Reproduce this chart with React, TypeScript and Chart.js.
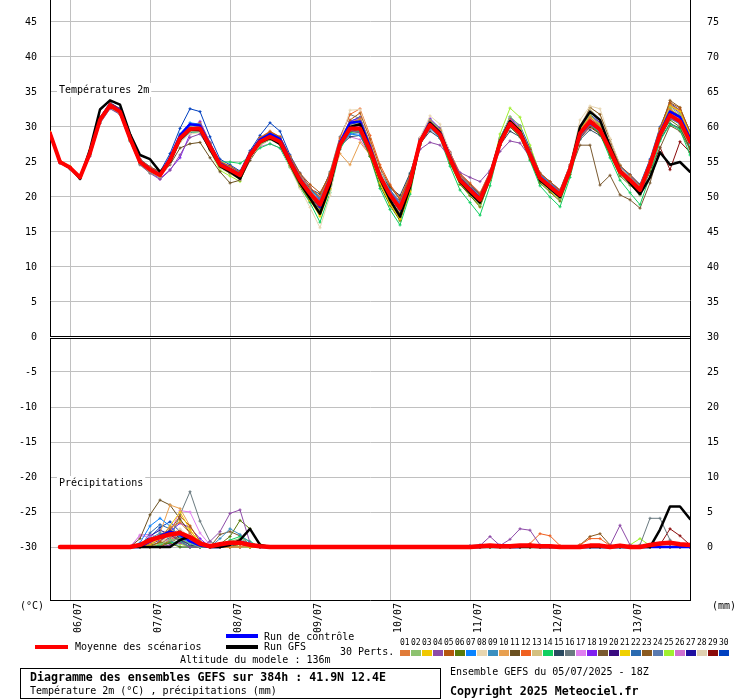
import React, { useEffect, useRef } from 'react';
import { Chart, registerables } from 'chart.js';

Chart.register(...registerables);

const FONT = '"DejaVu Sans Mono", "Liberation Mono", monospace';
const W = 740;
const H = 700;

// ---- axes ----
const DATE_LABELS = ['06/07', '07/07', '08/07', '09/07', '10/07', '11/07', '12/07', '13/07'];
const DATE_STEPS = [2, 10, 18, 26, 34, 42, 50, 58];
const TEMP_TICKS = [-30, -25, -20, -15, -10, -5, 0, 5, 10, 15, 20, 25, 30, 35, 40, 45];
const PRECIP_TICKS = [0, 5, 10, 15, 20, 25, 30, 35, 40, 45, 50, 55, 60, 65, 70, 75];
const T_MIN = -37.57;
const T_MAX = 48.14;
const P_SHIFT = 30;

const MEMBER_IDS = ['01','02','03','04','05','06','07','08','09','10','11','12','13','14','15','16','17','18','19','20','21','22','23','24','25','26','27','28','29','30'];
const MEMBER_COLORS = ['#e07b39','#8dc26f','#f0c800','#8e4ba8','#b5560e','#5a7a0a','#0a84ff','#e8d6b0','#3a8fc0','#e8a050','#6b5020','#f06020','#d4c080','#10d060','#2a4a60','#6a7a80','#e080f0','#8020f0','#7a5a30','#3a0a80','#f0d000','#2a6ab0','#8a5a20','#5a7ab0','#a0f030','#d070d0','#2010a0','#e0d0b0','#8a0a0a','#0040c0'];

// ---- temperature (°C), 3-hourly steps ----
const T_MEAN = [29.1,25.0,24.2,22.8,26.3,31.0,33.1,32.2, 28.4,25.0,23.9,23.1,25.3,28.4,29.7,29.8, 27.2,24.6,23.9,23.1,26.0,27.9,28.6,27.9, 25.0,22.4,20.5,18.9,22.4,27.5,29.8,29.8, 26.7,22.9,20.3,18.4,22.0,27.9,30.3,28.9, 25.5,22.4,21.0,19.6,22.9,27.7,30.5,29.1, 26.0,22.7,21.5,20.3,23.9,29.1,30.8,29.6, 26.7,23.6,22.4,21.0,24.6,28.9,31.7,30.8, 27.9];
const T_CTRL = [29.1,25.0,24.2,22.8,26.4,31.1,33.2,32.4, 28.6,25.1,24.0,23.2,25.6,28.8,30.4,30.2, 27.4,24.8,24.0,23.2,26.2,28.2,29.0,28.3, 25.3,22.6,20.6,18.6,22.3,27.8,30.6,30.8, 27.2,23.0,20.2,18.2,21.8,28.0,30.6,29.2, 25.8,22.6,21.2,19.8,23.0,27.8,30.8,29.4, 26.2,22.8,21.6,20.3,23.8,29.0,30.6,29.6, 26.8,23.6,22.2,20.8,24.6,29.2,32.2,31.4, 28.4];
const T_GFS = [29.1,25.0,24.2,22.6,26.8,32.5,33.8,33.2, 29.0,26.0,25.4,23.6,25.0,28.2,29.6,29.6, 26.8,24.4,23.6,22.6,25.8,27.8,28.4,27.6, 24.8,22.0,19.8,17.6,21.6,27.4,30.0,30.4, 26.8,22.6,19.6,17.2,21.4,27.8,30.6,29.2, 25.6,22.2,20.6,19.2,22.8,28.0,30.8,29.4, 26.0,22.4,21.2,20.0,24.0,30.0,32.2,31.0, 27.2,23.8,22.0,20.4,22.8,26.4,24.6,25.0, 23.6];
const T_M01 = [29.2,24.9,24.1,22.9,26.5,31.4,33.3,32.5, 28.9,25.3,24.2,23.4,25.0,28.0,29.5,30.3, 27.6,24.9,24.2,23.3,26.2,28.3,28.9,28.4, 25.6,23.0,21.0,19.2,22.0,27.0,30.5,31.2, 27.8,23.4,20.5,18.0,21.5,27.5,30.8,29.5, 26.0,23.0,21.5,20.0,23.0,27.5,30.2,29.0, 26.3,23.0,21.8,20.6,24.3,29.5,31.4,30.0, 27.3,24.0,22.9,21.5,25.0,29.5,32.5,31.5, 28.4];
const T_M02 = [29.0,25.1,24.3,22.7,26.0,30.6,32.8,32.0, 28.1,24.8,23.6,22.9,25.6,28.8,30.2,30.0, 27.0,24.3,23.6,22.8,25.8,27.5,28.2,27.6, 24.5,21.8,19.8,18.0,21.5,27.2,30.0,30.4, 26.5,22.3,19.5,17.4,21.3,28.2,31.0,29.6, 25.2,22.0,20.4,18.8,22.5,28.3,31.5,30.2, 26.5,22.5,21.0,19.7,23.5,29.8,31.8,30.2, 26.9,23.3,21.8,20.2,24.0,29.3,32.8,31.8, 28.6];
const T_M03 = [29.3,25.2,24.4,23.0,26.8,31.2,33.0,32.0, 28.2,25.1,24.0,23.3,25.5,28.6,29.9,29.6, 27.0,24.4,23.8,22.9,25.7,27.6,28.5,27.8, 24.6,21.7,19.5,17.4,21.2,27.4,30.6,30.8, 26.3,22.0,19.0,16.8,20.8,27.8,30.6,29.4, 25.4,22.2,20.8,19.2,22.6,27.6,30.8,29.8, 26.2,22.6,21.2,20.0,23.8,29.6,31.6,30.4, 27.2,23.6,22.3,20.8,24.8,29.5,33.0,32.2, 29.0];
const T_M04 = [29.0,24.8,24.0,22.6,25.8,30.5,32.6,31.8, 28.0,24.6,23.4,22.5,23.8,26.0,28.5,29.0, 26.8,24.4,23.5,22.6,25.5,27.8,28.8,28.0, 25.2,22.6,20.8,19.5,22.8,27.6,29.5,29.2, 26.6,23.0,20.8,19.2,22.4,26.8,27.8,27.4, 25.6,23.5,22.8,22.2,23.8,26.5,28.0,27.7, 25.7,23.0,21.8,20.8,24.0,28.5,30.3,29.5, 26.7,23.8,22.6,21.4,24.4,28.6,31.2,30.6, 27.8];
const T_M05 = [29.1,25.0,24.3,22.9,26.4,31.2,33.4,32.6, 28.8,25.4,24.3,23.6,25.4,28.2,29.6,30.0, 27.6,25.0,24.4,23.6,26.3,28.4,29.3,28.6, 25.8,23.4,21.8,20.6,23.2,27.8,31.0,32.0, 28.3,24.2,21.6,19.6,22.8,28.0,30.2,29.0, 26.0,23.2,21.8,20.3,23.4,28.0,30.8,29.6, 26.8,23.4,22.2,20.9,24.4,29.2,31.0,30.2, 27.5,24.5,23.2,21.7,25.1,29.8,33.5,32.7, 29.3];
const T_M06 = [29.0,25.0,24.1,22.7,26.2,30.8,32.9,32.0, 28.3,24.9,23.8,23.0,25.2,28.5,30.0,29.5, 26.9,24.3,23.4,22.6,25.9,27.6,28.4,27.5, 24.4,21.6,19.4,17.8,21.8,27.3,29.4,29.2, 25.8,21.6,18.8,16.6,21.0,27.6,30.0,28.6, 24.8,21.8,20.2,18.6,22.4,27.4,30.0,28.6, 25.4,22.0,20.7,19.4,23.2,28.6,30.2,29.0, 26.0,23.0,21.7,20.4,23.8,28.4,31.0,30.0, 27.0];
const T_M07 = [29.2,25.1,24.2,22.8,26.6,31.3,33.2,32.3, 28.6,25.2,24.1,23.4,25.6,29.0,30.6,30.4, 27.7,25.0,24.2,23.5,26.3,28.2,29.0,28.4, 25.6,23.0,21.0,19.4,23.0,27.5,29.0,28.8, 26.4,23.2,20.8,19.0,22.6,28.2,30.6,29.3, 26.0,23.0,21.6,20.2,23.3,27.9,30.6,29.6, 26.8,23.2,22.0,20.9,24.2,29.0,30.8,29.8, 27.4,24.4,23.0,21.6,25.0,29.0,31.6,30.6, 27.6];
const T_M08 = [29.0,24.9,24.1,22.6,26.0,30.7,32.8,31.9, 28.2,24.8,23.6,22.8,24.8,27.8,29.0,29.2, 26.6,24.1,23.3,22.5,25.5,27.4,28.2,27.4, 24.2,21.2,18.5,15.6,20.2,27.8,32.4,32.5, 28.4,23.8,20.6,18.2,21.8,28.5,31.6,30.4, 26.2,22.8,21.0,19.4,22.9,27.5,30.2,29.0, 26.0,22.8,21.6,20.2,24.6,31.0,33.0,32.6, 28.4,24.6,23.0,21.6,24.0,28.6,31.8,30.6, 27.5];
const T_M09 = [29.1,25.0,24.2,22.8,26.3,30.9,33.0,32.1, 28.4,25.0,23.9,23.1,25.4,28.4,29.6,29.8, 27.3,24.7,24.1,23.4,26.2,28.0,28.6,28.0, 25.3,22.8,21.0,19.8,22.6,27.2,29.0,29.2, 26.6,23.4,21.0,19.4,22.4,27.6,29.8,28.4, 25.2,22.6,21.3,20.0,23.0,27.6,30.4,29.2, 26.4,23.1,21.9,20.8,24.1,28.8,30.4,29.2, 26.4,23.4,22.2,20.9,24.4,28.6,31.4,30.4, 27.6];
const T_M10 = [29.2,25.0,24.2,22.8,26.4,31.0,33.1,32.3, 28.5,25.1,24.0,23.2,25.3,28.3,29.8,30.0, 27.4,24.8,24.0,23.2,26.1,27.9,28.6,27.8, 24.8,22.2,20.4,18.8,22.0,26.2,24.6,27.8, 26.0,23.0,20.6,18.8,22.2,28.0,30.4,29.0, 25.6,22.5,21.1,19.7,23.0,27.8,30.6,29.2, 26.1,22.8,21.6,20.4,24.0,29.2,30.9,29.7, 26.8,23.7,22.5,21.1,24.7,29.0,31.8,30.9, 28.0];
const T_M11 = [29.0,24.9,24.1,22.7,26.2,30.8,32.8,31.9, 28.2,24.9,23.8,23.0,24.6,27.0,27.6,27.8, 25.6,23.6,22.0,22.4,25.2,27.4,28.2,27.6, 24.6,22.0,20.0,18.2,21.6,27.0,29.6,29.6, 26.2,22.4,19.6,17.6,21.4,27.4,30.0,28.6, 25.2,22.2,20.8,19.3,22.7,27.5,30.3,29.0, 25.8,22.5,21.3,20.1,23.7,28.9,30.6,29.4, 26.5,23.4,22.2,20.8,24.4,28.7,31.5,30.6, 27.7];
const T_M12 = [29.1,25.0,24.3,22.9,26.5,31.2,33.2,32.4, 28.7,25.2,24.1,23.3,25.6,28.8,30.3,30.6, 27.8,25.1,24.4,23.5,26.4,28.5,29.4,28.6, 25.8,23.2,21.4,20.0,23.4,28.4,31.8,32.6, 28.8,24.6,21.8,19.8,23.0,28.4,30.8,29.6, 26.4,23.4,22.0,20.6,23.6,28.2,31.0,29.8, 26.8,23.4,22.2,21.0,24.6,29.6,31.4,30.2, 27.4,24.3,23.0,21.6,25.2,29.8,33.2,32.4, 29.2];
const T_M13 = [29.0,25.0,24.2,22.8,26.2,31.0,33.0,32.1, 28.3,24.9,23.8,23.0,25.2,28.2,29.4,29.5, 26.9,24.4,23.7,22.9,25.8,27.6,28.3,27.6, 24.7,22.0,20.0,18.2,21.6,27.2,30.2,30.6, 26.8,22.6,19.8,17.8,21.6,27.9,30.4,29.1, 25.6,22.4,21.0,19.5,22.8,27.8,30.7,29.3, 26.1,22.6,21.4,20.1,23.9,29.6,32.6,31.0, 27.2,23.8,22.4,21.0,24.5,29.2,32.2,31.2, 28.2];
const T_M14 = [29.0,24.9,24.0,22.6,26.0,30.6,32.7,31.8, 28.0,24.7,23.6,22.8,25.0,28.0,29.3,29.2, 27.0,25.0,25.0,24.8,25.8,27.0,27.6,27.0, 24.2,21.4,19.2,16.4,20.6,26.8,29.2,29.4, 25.8,21.2,18.2,16.0,20.4,27.4,30.2,28.4, 24.4,21.0,19.2,17.4,21.6,27.4,30.4,28.8, 25.2,21.6,20.0,18.6,22.8,28.4,30.4,29.0, 25.6,22.4,20.6,18.9,23.0,28.0,30.4,29.6, 26.0];
const T_M15 = [29.1,25.0,24.2,22.8,26.4,31.1,33.1,32.2, 28.5,25.1,24.0,23.2,25.4,28.5,29.8,29.9, 27.3,24.7,24.0,23.3,26.2,28.0,28.7,28.0, 25.2,22.7,21.2,20.4,23.4,27.3,28.6,28.8, 26.0,23.2,21.4,20.2,23.4,27.6,29.4,28.4, 25.5,22.8,21.6,20.4,23.4,27.4,29.4,28.6, 25.9,22.9,21.8,20.8,24.0,28.2,29.6,28.8, 26.4,23.6,22.5,21.2,24.4,28.2,30.5,29.8, 27.0];
const T_M16 = [29.1,25.0,24.2,22.8,26.3,31.0,33.0,32.1, 28.3,25.0,23.9,23.1,25.3,28.4,29.6,29.7, 27.1,24.6,23.9,23.1,26.0,28.0,28.8,28.1, 25.3,22.8,21.2,19.9,23.6,28.6,31.8,31.2, 27.6,23.8,21.4,19.7,23.2,28.2,30.6,29.4, 26.0,22.8,21.4,20.0,23.3,27.8,30.2,29.0, 26.1,22.9,21.7,20.5,24.1,28.8,30.4,29.4, 26.6,23.6,22.4,21.0,24.5,28.6,31.2,30.4, 27.6];
const T_M17 = [29.2,25.1,24.3,22.9,26.4,31.2,33.3,32.4, 28.6,25.2,24.1,23.3,25.4,28.6,30.0,30.2, 27.5,24.8,24.0,23.2,26.0,27.8,28.5,27.8, 25.0,22.3,20.3,18.6,22.2,27.6,30.0,30.1, 26.8,22.8,20.0,18.0,21.8,28.0,30.6,29.2, 25.6,22.2,20.8,19.4,22.8,28.0,30.9,29.5, 26.2,22.7,21.4,20.2,23.8,29.3,31.2,30.0, 27.0,23.7,22.4,21.0,24.6,29.1,32.0,31.0, 28.0];
const T_M18 = [29.0,24.9,24.1,22.7,26.1,30.8,32.9,32.0, 28.2,24.8,23.6,22.6,23.9,25.6,29.0,30.8, 27.8,24.8,23.8,22.9,25.9,27.8,28.6,27.9, 25.1,22.6,20.8,19.4,22.9,27.9,30.8,31.3, 27.4,23.3,20.6,18.6,22.2,28.4,31.2,29.8, 26.0,22.6,21.2,19.8,23.1,28.0,31.2,30.0, 26.6,23.0,21.8,20.6,24.2,29.4,31.6,30.6, 27.4,24.0,22.8,21.4,25.0,29.6,33.0,32.0, 28.8];
const T_M19 = [29.1,25.0,24.2,22.8,26.3,31.0,33.0,32.1, 28.4,25.0,23.9,23.1,25.2,28.2,29.4,29.4, 26.9,24.4,23.7,23.0,25.9,27.8,28.5,27.9, 25.0,22.4,20.6,19.0,22.4,27.4,29.6,29.6, 26.5,22.8,20.2,18.2,21.8,27.6,30.0,28.7, 25.3,22.2,20.8,19.4,22.7,27.4,30.2,28.8, 25.8,22.5,21.3,20.0,23.6,27.4,27.4,21.7, 23.1,20.3,19.6,18.4,22.0,27.0,30.2,29.4, 26.8];
const T_M20 = [29.1,25.1,24.3,22.9,26.5,31.3,33.4,32.6, 28.8,25.3,24.2,23.4,25.5,28.6,29.9,30.1, 27.4,24.8,24.1,23.3,26.2,28.1,28.8,28.1, 25.2,22.5,20.4,18.6,22.2,27.6,30.2,30.4, 27.0,22.9,20.0,17.8,21.6,27.8,30.2,28.9, 25.4,22.2,20.7,19.2,22.6,27.6,30.4,29.0, 25.8,22.4,21.1,19.8,23.5,29.0,30.8,29.6, 26.6,23.4,22.0,20.4,24.2,29.0,32.4,31.6, 28.6];
const T_M21 = [29.2,25.0,24.2,22.8,26.4,31.1,33.2,32.3, 28.5,25.1,24.0,23.2,25.6,28.9,30.3,30.2, 27.4,24.7,23.9,23.0,25.9,27.8,28.4,27.6, 24.6,21.8,19.6,17.2,21.0,27.6,30.8,31.0, 26.6,22.0,19.0,16.8,20.6,27.6,30.2,28.8, 25.0,21.8,20.2,18.6,22.4,28.0,31.2,29.6, 26.0,22.2,20.8,19.6,23.6,29.4,31.2,30.0, 27.0,23.4,22.0,20.6,24.6,29.6,32.6,31.6, 28.4];
const T_M22 = [29.1,25.0,24.2,22.8,26.4,31.1,33.1,32.3, 28.6,25.1,24.0,23.3,25.5,28.6,30.1,30.3, 27.6,24.9,24.1,23.3,26.3,28.3,29.2,28.5, 25.6,23.0,21.2,19.6,23.0,27.8,30.4,30.6, 27.4,23.6,21.0,19.0,22.6,28.2,30.6,29.4, 26.1,23.0,21.5,20.0,23.3,28.0,30.8,29.5, 26.4,23.0,21.8,20.6,24.2,29.2,31.0,29.8, 27.0,23.9,22.7,21.3,24.9,29.2,32.0,31.0, 28.0];
const T_M23 = [29.0,24.9,24.1,22.7,26.1,30.8,32.9,32.0, 28.2,24.9,23.8,23.0,25.1,28.2,29.5,29.6, 27.0,24.5,23.8,23.0,25.9,27.8,28.6,27.8, 24.9,22.2,20.2,18.4,22.2,27.2,29.4,29.6, 26.2,22.2,19.4,17.2,21.2,27.6,30.0,28.7, 25.2,22.2,20.8,19.3,22.7,27.5,30.3,29.0, 25.9,22.6,21.3,20.1,23.7,29.6,32.8,31.8, 28.2,24.6,23.0,21.4,24.6,29.6,33.8,32.8, 29.2];
const T_M24 = [29.1,25.0,24.2,22.8,26.3,31.0,33.0,32.2, 28.4,25.0,23.9,23.1,25.3,28.4,29.8,30.0, 27.3,24.7,24.0,23.2,26.1,28.0,28.7,28.0, 25.1,22.5,20.6,19.0,22.5,27.6,29.9,29.9, 26.8,23.0,20.4,18.5,22.1,28.0,30.4,29.0, 25.6,22.5,21.1,19.7,23.0,27.8,30.6,29.2, 26.1,22.8,21.6,20.4,24.0,29.2,30.9,29.7, 26.8,23.7,22.5,21.1,24.7,29.0,31.8,30.9, 28.0];
const T_M25 = [29.0,25.0,24.2,22.8,26.2,30.9,33.0,32.0, 28.1,24.6,23.4,22.8,25.0,28.2,29.6,29.6, 26.6,23.8,23.0,22.2,25.6,27.6,28.4,27.6, 24.6,21.8,19.6,17.6,21.6,27.2,30.0,30.2, 26.4,22.2,19.4,17.0,21.0,28.0,31.0,29.8, 26.0,22.4,20.6,19.0,22.8,29.0,32.7,31.4, 27.4,23.2,21.6,20.2,24.0,29.6,31.6,30.4, 27.2,23.8,22.4,21.0,24.6,29.8,33.2,32.2, 29.0];
const T_M26 = [29.1,25.0,24.2,22.8,26.3,31.0,33.0,32.1, 28.3,24.9,23.8,23.0,25.1,28.0,29.2,29.4, 27.0,24.6,23.9,23.1,25.9,27.2,27.6,27.0, 24.6,22.3,20.6,19.2,22.6,27.2,28.6,28.2, 26.0,22.8,20.4,18.6,22.0,27.6,29.8,28.6, 25.4,22.6,21.4,20.2,23.2,27.6,30.0,28.8, 26.0,22.8,21.6,20.5,24.0,28.8,30.4,29.4, 26.6,23.6,22.4,21.0,24.6,28.8,31.4,30.6, 27.6];
const T_M27 = [29.1,25.0,24.2,22.9,26.4,31.1,33.2,32.3, 28.6,25.2,24.0,23.2,25.4,28.6,30.0,30.1, 27.5,24.8,24.1,23.3,26.2,28.1,28.8,28.2, 25.4,22.8,20.9,19.3,22.8,27.8,30.4,30.6, 27.4,23.6,21.0,19.0,22.6,28.2,30.8,29.6, 26.2,23.0,21.6,20.2,23.4,28.2,31.0,29.8, 26.6,23.2,22.0,20.8,24.4,29.4,31.0,29.9, 27.0,23.9,22.7,21.3,24.9,29.4,32.2,31.2, 28.2];
const T_M28 = [29.1,25.0,24.2,22.8,26.2,30.9,32.9,32.0, 28.2,24.8,23.7,23.0,25.2,28.2,29.5,29.6, 27.0,24.4,23.7,22.9,25.8,27.6,28.3,27.5, 24.6,21.9,20.0,18.2,21.8,27.4,30.4,31.0, 27.2,23.2,20.2,17.8,21.6,27.8,30.4,29.2, 25.8,22.6,21.1,19.6,22.9,28.0,31.0,29.8, 26.6,23.2,22.0,20.8,24.4,30.2,32.8,31.8, 27.8,24.4,23.0,21.6,25.0,29.4,32.4,31.4, 28.4];
const T_M29 = [29.1,25.0,24.2,22.8,26.3,31.0,33.1,32.2, 28.4,25.0,23.9,23.1,25.3,28.4,29.7,29.8, 27.2,24.6,23.9,23.1,26.0,27.9,28.6,27.9, 25.0,22.4,20.4,18.6,22.2,27.6,30.0,30.0, 26.8,22.8,20.0,18.0,21.8,28.0,30.4,29.0, 25.6,22.4,21.0,19.5,22.9,27.8,30.6,29.2, 26.0,22.6,21.4,20.2,23.8,28.4,30.0,29.0, 26.2,23.2,22.0,20.6,23.6,27.1,23.9,27.9, 26.4];
const T_M30 = [29.2,25.1,24.3,22.9,26.6,31.4,33.5,32.6, 28.9,25.4,24.3,23.6,26.2,29.8,32.6,32.2, 28.6,25.4,24.6,23.7,26.6,28.8,30.6,29.4, 26.0,23.4,21.4,19.6,23.0,28.0,30.8,31.4, 27.6,23.6,20.8,18.8,22.6,28.4,31.0,29.8, 26.4,23.2,21.8,20.4,23.6,28.4,31.4,30.2, 27.0,23.4,22.2,21.0,24.6,29.8,31.8,30.6, 27.6,24.4,23.2,21.8,25.4,30.0,33.4,32.4, 29.4];

// ---- precipitation (mm per 3h step), step 0 has no value ----
const P_MEAN = [null,0,0,0,0,0,0,0,0, 0.3,1,1.4,1.8,2,1.4,0.5,0.1,0.4,0.6,0.6,0.3,0.1, 0,0,0,0,0,0,0,0,0,0,0,0,0,0,0,0,0,0,0,0,0, 0.1,0.2,0.1,0.1,0.2,0.2,0.1,0.1,0,0, 0,0.2,0.2,0,0.2,0,0,0.3,0.5,0.6,0.4,0.3];
const P_CTRL = [null,0,0,0,0,0,0,0,0, 0,0.8,1.6,2.2,1.8,0.8,0.2,0,0,0.5,0.8,0.4,0, 0,0,0,0,0,0,0,0,0,0,0,0,0,0,0,0,0,0,0,0,0, 0,0.2,0.3,0,0,0.3,0,0,0,0, 0,0,0,0,0,0,0,0,0,0,0,0];
const P_GFS = [null,0,0,0,0,0,0,0,0, 0,0,0,0,1,1.5,0.5,0,0,0.3,1,2.6,0.3, 0,0,0,0,0,0,0,0,0,0,0,0,0,0,0,0,0,0,0,0,0, 0,0,0,0,0,0,0,0,0,0, 0,0,0,0,0,0,0,0,2.5,5.8,5.8,4];
const P_M01 = [null,0,0,0,0,0,0,0,0, 0,0.5,1.5,2.8,3.5,2,0.6,0,0,0,0,0.3,0, 0,0,0,0,0,0,0,0,0,0,0,0,0,0,0,0,0,0,0,0,0, 0,0,0,0,0,0,0,0,0,0, 0,0,0,0,0,0,0,0,0,0,0,0];
const P_M02 = [null,0,0,0,0,0,0,0,0, 0,0,0.4,1,1.2,0.5,0,0,0,0.8,1.2,0.4,0, 0,0,0,0,0,0,0,0,0,0,0,0,0,0,0,0,0,0,0,0,0, 0,0,0,0,0,0,0,0,0,0, 0,0,0,0,0,0,0,0,0,0,0,0];
const P_M03 = [null,0,0,0,0,0,0,0,0, 0,0.3,1.2,3,5,2.5,0.4,0,0,0,0,0,0, 0,0,0,0,0,0,0,0,0,0,0,0,0,0,0,0,0,0,0,0,0, 0,0,0,0,0,0,0,0,0,0, 0,0,0,0,0,0,0,0,0,0,0,0];
const P_M04 = [null,0,0,0,0,0,0,0,0, 0,0,0,0.3,0.6,0,0,0.8,2.2,4.8,5.3,0.6,0, 0,0,0,0,0,0,0,0,0,0,0,0,0,0,0,0,0,0,0,0,0, 0.2,1.5,0.2,1.1,2.6,2.4,0.3,0,0,0, 0,0,0,0.2,3.1,0.3,0,0,0,0,0,0];
const P_M05 = [null,0,0,0,0,0,0,0,0, 0,0,0.8,2.4,4.4,3,0.8,0,0,0,0.4,0,0, 0,0,0,0,0,0,0,0,0,0,0,0,0,0,0,0,0,0,0,0,0, 0,0,0,0,0,0,0,0,0,0, 0,0,0,0,0,0,0,0,0,0,0,0];
const P_M06 = [null,0,0,0,0,0,0,0,0, 0,0.3,0.6,0.5,0,0,0,0,0.4,1.5,3.8,2.6,0.4, 0,0,0,0,0,0,0,0,0,0,0,0,0,0,0,0,0,0,0,0,0, 0,0,0,0,0,0,0,0,0,0, 0,0,0,0,0,0,0,0,0,0,0,0];
const P_M07 = [null,0,0,0,0,0,0,0,0, 0.6,3,4.1,3,1.5,0.5,0,0,0,0,0,0,0, 0,0,0,0,0,0,0,0,0,0,0,0,0,0,0,0,0,0,0,0,0, 0,0,0,0,0,0,0,0,0,0, 0,0,0,0,0,0,0,0,0,0,0,0];
const P_M08 = [null,0,0,0,0,0,0,0,0, 0,0,0.6,1.8,2.6,1.4,0.3,0,0,0,0,0,0, 0,0,0,0,0,0,0,0,0,0,0,0,0,0,0,0,0,0,0,0,0, 0,0,0,0,0,0,0,0,0,0, 0,0,0,0,0,0,0,0,0,0,0,0];
const P_M09 = [null,0,0,0,0,0,0,0,0, 0,1.2,2,1,0,0,0,0,1.2,2.6,1.8,0.6,0, 0,0,0,0,0,0,0,0,0,0,0,0,0,0,0,0,0,0,0,0,0, 0,0,0,0,0,0,0,0,0,0, 0,0,0,0,0,0,0,0,0,0,0,0];
const P_M10 = [null,0,0,0,0,0,0,0,0, 0,0,2,6,5.5,3,0.8,0,0,0,0,0,0, 0,0,0,0,0,0,0,0,0,0,0,0,0,0,0,0,0,0,0,0,0, 0,0,0,0,0,0,0,0,0,0, 0,0,0,0,0,0,0,0,0,0,0,0];
const P_M11 = [null,0,0,0,0,0,0,0,0, 1.2,4.6,6.7,6,4,2,0.5,0,0,0,0,0,0, 0,0,0,0,0,0,0,0,0,0,0,0,0,0,0,0,0,0,0,0,0, 0,0,0,0,0,0,0,0,0,0, 0,0,0,0,0,0,0,0,0,0,0,0];
const P_M12 = [null,0,0,0,0,0,0,0,0, 0,0,0,1,2,1.2,0,0,0,0,0,0,0, 0,0,0,0,0,0,0,0,0,0,0,0,0,0,0,0,0,0,0,0,0, 0,0,0,0,0,0.5,1.9,1.6,0.2,0, 0.3,1.2,1.2,0.2,0,0,0,0,0,0,0,0];
const P_M13 = [null,0,0,0,0,0,0,0,0, 0,0,0.5,1.5,2.2,1,0,0,0,0,0,0,0, 0,0,0,0,0,0,0,0,0,0,0,0,0,0,0,0,0,0,0,0,0, 0,0,0,0,0,0,0,0,0,0, 0,0,0,0,0,0,0,0,0,0,0,0];
const P_M14 = [null,0,0,0,0,0,0,0,0, 0,0,0.3,0.6,0.8,0,0,0,0,1,1.5,0.8,0, 0,0,0,0,0,0,0,0,0,0,0,0,0,0,0,0,0,0,0,0,0, 0,0,0,0,0,0,0,0,0,0, 0,0,0,0,0,0,0,0,0,0,0,0];
const P_M15 = [null,0,0,0,0,0,0,0,0, 0,0.8,1.8,2.4,1.2,0.3,0,0,0,0,0.6,0.4,0, 0,0,0,0,0,0,0,0,0,0,0,0,0,0,0,0,0,0,0,0,0, 0,0,0,0,0,0,0,0,0,0, 0,0,0,0,0,0,0,0,0,0,0,0];
const P_M16 = [null,0,0,0,0,0,0,0,0, 0,0,0,1,4.6,7.9,3.7,0.8,0,0,0,0,0, 0,0,0,0,0,0,0,0,0,0,0,0,0,0,0,0,0,0,0,0,0, 0,0,0,0,0,0,0,0,0,0, 0,0,0,0,0,0,0.3,4.1,4.1,1,0,0];
const P_M17 = [null,0,0,0,0,0,0,0,0, 1.6,1.4,1,2,5.2,5,2,0.3,0,0,0,0,0, 0,0,0,0,0,0,0,0,0,0,0,0,0,0,0,0,0,0,0,0,0, 0,0,0,0,0,0,0,0,0,0, 0,0,0,0,0,0,0,0,0,0,0,0];
const P_M18 = [null,0,0,0,0,0,0,0,0, 0,0,0.8,2.2,3.4,2.8,1.2,0,0,0,0,0,0, 0,0,0,0,0,0,0,0,0,0,0,0,0,0,0,0,0,0,0,0,0, 0,0,0,0,0,0,0,0,0,0, 0,0,0,0,0,0,0,0,0,0,0,0];
const P_M19 = [null,0,0,0,0,0,0,0,0, 0,0,0,0.6,1.4,1,0,0,1.8,2.2,1.6,0.3,0, 0,0,0,0,0,0,0,0,0,0,0,0,0,0,0,0,0,0,0,0,0, 0,0,0,0,0,0,0,0,0,0, 0,0,0,0,0,0,0,0,0,0,0,0];
const P_M20 = [null,0,0,0,0,0,0,0,0, 0,0.4,1,1.6,1,0.3,0,0,0,0,0,0,0, 0,0,0,0,0,0,0,0,0,0,0,0,0,0,0,0,0,0,0,0,0, 0,0,0,0,0,0,0,0,0,0, 0,0,0,0,0,0,0,0,0,0,0,0];
const P_M21 = [null,0,0,0,0,0,0,0,0, 0,0,0.6,2,3.8,2.4,0.6,0,0,0,0,0,0, 0,0,0,0,0,0,0,0,0,0,0,0,0,0,0,0,0,0,0,0,0, 0,0,0,0,0,0,0,0,0,0, 0,0,0,0,0,0,0,0,0,0,0,0];
const P_M22 = [null,0,0,0,0,0,0,0,0, 0,2,3.2,2.6,1.4,0.4,0,0,0,0,0,0,0, 0,0,0,0,0,0,0,0,0,0,0,0,0,0,0,0,0,0,0,0,0.2, 0.3,0,0,0,0,0,0,0,0,0, 0,0,0,0,0,0,0,0,0,0,0,0];
const P_M23 = [null,0,0,0,0,0,0,0,0, 0,0,0,0.8,1.6,1.2,0.3,0,0,0,0,0,0, 0,0,0,0,0,0,0,0,0,0,0,0,0,0,0,0,0,0,0,0,0, 0,0,0,0,0,0,0,0,0,0, 0.3,1.5,1.9,0.3,0,0,0,0,0,0,0,0];
const P_M24 = [null,0,0,0,0,0,0,0,0, 0,0.6,1.4,2,1,0,0,0,0,0.6,0.8,0,0, 0,0,0,0,0,0,0,0,0,0,0,0,0,0,0,0,0,0,0,0,0, 0,0,0,0,0,0,0,0,0,0, 0,0,0,0,0,0,0,0,0,0,0,0];
const P_M25 = [null,0,0,0,0,0,0,0,0, 0,0,0.3,0.6,0.4,0,0,0,0.5,0.8,0,0,0, 0,0,0,0,0,0,0,0,0,0,0,0,0,0,0,0,0,0,0,0,0, 0,0,0,0,0,0,0,0,0,0, 0,0,0,0,0,0.3,1.2,0.2,0,0,0,0];
const P_M26 = [null,0,0,0,0,0,0,0,0, 1.7,1.8,1.2,0.8,2,1.2,0,0.3,0,0,0,0,0, 0,0,0,0,0,0,0,0,0,0,0,0,0,0,0,0,0,0,0,0,0, 0,0,0,0,0,0,0,0,0,0, 0,0,0,0,0,0,0,0,0,0,0,0];
const P_M27 = [null,0,0,0,0,0,0,0,0, 0,1.6,2.4,1.8,0.8,0,0,0,0,0,0,0,0, 0,0,0,0,0,0,0,0,0,0,0,0,0,0,0,0,0,0,0,0,0, 0,0,0,0,0,0,0,0,0,0, 0,0,0,0,0,0,0,0,0,0,0,0];
const P_M28 = [null,0,0,0,0,0,0,0,0, 0,0,0,1,1.8,1.4,0.4,0,0,0,0,0,0, 0,0,0,0,0,0,0,0,0,0,0,0,0,0,0,0,0,0,0,0,0, 0,0,0,0,0,0,0,0,0,0, 0,0,0,0,0,0,0,0,0,0,0,0];
const P_M29 = [null,0,0,0,0,0,0,0,0, 0,0,0.4,1.4,2.4,1,0,0,0,0,0,0,0, 0,0,0,0,0,0,0,0,0,0,0,0,0,0,0,0,0,0,0,0,0, 0,0,0,0,0,0,0,0,0,0, 0,0,0,0,0,0,0,0,0.3,2.6,1.6,0.3];
const P_M30 = [null,0,0,0,0,0,0,0,0, 0,1.4,2.8,3.6,2.2,0.8,0,0,0,0.4,0,0,0, 0,0,0,0,0,0,0,0,0,0,0,0,0,0,0,0,0,0,0,0,0, 0,0,0,0,0,0,0,0,0,0, 0,0,0,0,0,0,0,0,0,0,0,0];

const MEMBERS_T = [T_M01,T_M02,T_M03,T_M04,T_M05,T_M06,T_M07,T_M08,T_M09,T_M10,T_M11,T_M12,T_M13,T_M14,T_M15,T_M16,T_M17,T_M18,T_M19,T_M20,T_M21,T_M22,T_M23,T_M24,T_M25,T_M26,T_M27,T_M28,T_M29,T_M30];
const MEMBERS_P = [P_M01,P_M02,P_M03,P_M04,P_M05,P_M06,P_M07,P_M08,P_M09,P_M10,P_M11,P_M12,P_M13,P_M14,P_M15,P_M16,P_M17,P_M18,P_M19,P_M20,P_M21,P_M22,P_M23,P_M24,P_M25,P_M26,P_M27,P_M28,P_M29,P_M30];

const pts = (arr: (number | null)[]) => arr.map((v, i) => ({ x: i, y: v }));

function buildDatasets() {
  const ds: any[] = [];
  MEMBERS_T.forEach((arr, k) => {
    ds.push({
      data: pts(arr), yAxisID: 'yT', borderColor: MEMBER_COLORS[k], backgroundColor: MEMBER_COLORS[k],
      borderWidth: 1, pointRadius: 1.5, pointStyle: 'cross', pointBorderWidth: 1, pointBorderColor: MEMBER_COLORS[k],
      tension: 0, order: 10 + k,
    });
    ds.push({
      data: pts(MEMBERS_P[k]), yAxisID: 'yP', borderColor: MEMBER_COLORS[k], backgroundColor: MEMBER_COLORS[k],
      borderWidth: 1, pointRadius: 1.5, pointStyle: 'cross', pointBorderWidth: 1, pointBorderColor: MEMBER_COLORS[k],
      tension: 0, order: 10 + k,
    });
  });
  const main = (data: any, axis: string, color: string, width: number, order: number) => ({
    data, yAxisID: axis, borderColor: color, backgroundColor: color, borderWidth: width,
    pointRadius: 0, tension: 0, order, borderCapStyle: 'round', borderJoinStyle: 'round',
  });
  ds.push(main(pts(T_CTRL), 'yT', '#0000ff', 2.5, 3));
  ds.push(main(pts(P_CTRL), 'yP', '#0000ff', 2.5, 3));
  ds.push(main(pts(T_GFS), 'yT', '#000000', 2.5, 2));
  ds.push(main(pts(P_GFS), 'yP', '#000000', 2.5, 2));
  ds.push(main(pts(T_MEAN), 'yT', '#ff0000', 4, 1));
  ds.push(main(pts(P_MEAN), 'yP', '#ff0000', 4.5, 1));
  return ds;
}

const overlayPlugin = {
  id: 'meteoOverlay',
  beforeDraw(chart: any) {
    const { ctx } = chart;
    ctx.save();
    ctx.fillStyle = '#ffffff';
    ctx.fillRect(0, 0, chart.width, chart.height);
    ctx.restore();
  },
  afterDatasetsDraw(chart: any) {
    const { ctx, chartArea, scales } = chart;
    const yT = scales.yT;
    const y0 = Math.round(yT.getPixelForValue(0));
    const left = chartArea.left;
    const w = chartArea.right - chartArea.left;
    ctx.save();
    ctx.fillStyle = '#000';
    ctx.fillRect(left, y0 - 1, w, 1);
    ctx.fillStyle = '#fff';
    ctx.fillRect(left, y0, w, 1);
    ctx.fillStyle = '#000';
    ctx.fillRect(left, y0 + 1, w, 1);

    const label = (text: string, x: number, y: number) => {
      ctx.font = `10px ${FONT}`;
      const tw = ctx.measureText(text).width;
      ctx.fillStyle = '#fff';
      ctx.fillRect(x - 2, y - 7, tw + 4, 14);
      ctx.fillStyle = '#000';
      ctx.textAlign = 'left';
      ctx.textBaseline = 'middle';
      ctx.fillText(text, x, y);
    };
    label('Températures 2m', left + 9, Math.round(yT.getPixelForValue(35.3)));
    label('Précipitations', left + 9, Math.round(yT.getPixelForValue(-20.9)));
    ctx.restore();
  },
  afterDraw(chart: any) {
    const { ctx } = chart;
    ctx.save();
    ctx.textAlign = 'left';
    ctx.textBaseline = 'middle';
    ctx.fillStyle = '#000';
    ctx.font = `10px ${FONT}`;
    ctx.fillText('(°C)', 20, 606);
    ctx.fillText('(mm)', 712, 606);

    ctx.fillStyle = '#ff0000';
    ctx.fillRect(35, 645, 33, 4);
    ctx.fillStyle = '#000';
    ctx.fillText('Moyenne des scénarios', 75, 647);

    ctx.fillStyle = '#0000ff';
    ctx.fillRect(226, 634, 32, 4);
    ctx.fillStyle = '#000';
    ctx.fillText('Run de contrôle', 264, 637);
    ctx.fillRect(226, 645, 32, 4);
    ctx.fillText('Run GFS', 264, 647);
    ctx.fillText('Altitude du modele : 136m', 180, 660);
    ctx.fillText('30 Perts.', 340, 652);

    ctx.font = `8px ${FONT}`;
    MEMBER_IDS.forEach((id, k) => {
      const x = 400 + 11 * k;
      ctx.fillStyle = '#000';
      ctx.fillText(id, x, 643);
      ctx.fillStyle = MEMBER_COLORS[k];
      ctx.fillRect(x, 650, 10, 6);
    });

    ctx.strokeStyle = '#000';
    ctx.lineWidth = 1;
    ctx.strokeRect(20.5, 668.5, 420, 30);
    ctx.fillStyle = '#000';
    ctx.font = `bold 11.6px ${FONT}`;
    ctx.fillText('Diagramme des ensembles GEFS sur 384h : 41.9N 12.4E', 30, 678);
    ctx.font = `10px ${FONT}`;
    ctx.fillText('Température 2m (°C) , précipitations (mm)', 30, 691);
    ctx.fillText('Ensemble GEFS du 05/07/2025 - 18Z', 450, 672);
    ctx.font = `bold 11.6px ${FONT}`;
    ctx.fillText('Copyright 2025 Meteociel.fr', 450, 692);
    ctx.restore();
  },
};

export default function App() {
  const ref = useRef<HTMLCanvasElement | null>(null);

  useEffect(() => {
    const canvas = ref.current;
    if (!canvas) return;
    const tickFont = { family: FONT, size: 10 };
    const chart = new Chart(canvas, {
      type: 'line',
      data: { datasets: buildDatasets() },
      plugins: [overlayPlugin],
      options: {
        animation: false,
        responsive: false,
        devicePixelRatio: 1,
        events: [],
        layout: { autoPadding: false, padding: { left: 0, right: 0, top: 0, bottom: 60 } },
        plugins: { legend: { display: false }, tooltip: { enabled: false } },
        scales: {
          x: {
            type: 'linear',
            position: 'bottom',
            min: 0,
            max: 64,
            afterBuildTicks: (s: any) => { s.ticks = DATE_STEPS.map((v) => ({ value: v })); },
            afterFit: (s: any) => { s.height = 40; s.paddingLeft = 0; s.paddingRight = 0; },
            ticks: {
              autoSkip: false,
              minRotation: 90,
              maxRotation: 90,
              labelOffset: 8,
              padding: 3,
              color: '#000',
              font: tickFont,
              callback: (v: any) => {
                const k = DATE_STEPS.indexOf(Number(v));
                return k >= 0 ? DATE_LABELS[k] : '';
              },
            },
            grid: { color: '#c0c0c0', lineWidth: 1, drawTicks: false },
            border: { display: true, color: '#000', width: 1 },
          },
          yT: {
            type: 'linear',
            position: 'left',
            min: T_MIN,
            max: T_MAX,
            afterBuildTicks: (s: any) => { s.ticks = TEMP_TICKS.map((v) => ({ value: v })); },
            afterFit: (s: any) => { s.width = 50; s.paddingTop = 0; s.paddingBottom = 0; },
            ticks: { padding: 13, color: '#000', font: tickFont, callback: (v: any) => String(v) },
            grid: {
              color: (c: any) => (c.tick && c.tick.value === 0 ? 'rgba(0,0,0,0)' : '#c0c0c0'),
              lineWidth: 1,
              drawTicks: false,
            },
            border: { display: true, color: '#000', width: 1 },
          },
          yP: {
            type: 'linear',
            position: 'right',
            min: T_MIN + P_SHIFT,
            max: T_MAX + P_SHIFT,
            afterBuildTicks: (s: any) => { s.ticks = PRECIP_TICKS.map((v) => ({ value: v })); },
            afterFit: (s: any) => { s.width = 50; s.paddingTop = 0; s.paddingBottom = 0; },
            ticks: { padding: 17, color: '#000', font: tickFont, callback: (v: any) => String(v) },
            grid: { drawOnChartArea: false, drawTicks: false },
            border: { display: true, color: '#000', width: 1 },
          },
        },
      } as any,
    });
    return () => chart.destroy();
  }, []);

  return (
    <div style={{ position: 'absolute', left: 0, top: 0, width: W, height: H, background: '#fff' }}>
      <canvas ref={ref} width={W} height={H} style={{ display: 'block', width: W, height: H }} />
    </div>
  );
}
